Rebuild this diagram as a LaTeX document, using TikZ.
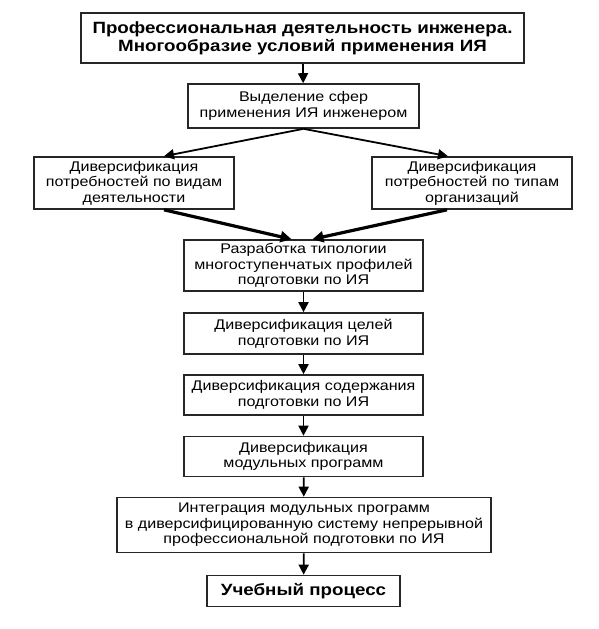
\documentclass[tikz,border=0pt]{standalone}
\usepackage{fontspec}
\setmainfont[FakeStretch=1.15]{Liberation Sans}
\usetikzlibrary{arrows.meta}
\begin{document}
\begin{tikzpicture}[x=1pt,y=-1pt,
  box/.style={draw=black!85,line width=1.6pt,rectangle,align=center,inner sep=0pt,
    font=\fontsize{14}{15.5}\selectfont},
  boldbox/.style={box,font=\fontsize{16.3}{18}\selectfont\bfseries},
  arr/.style={line width=1.8pt,-{Triangle[length=10pt,width=10pt]}},
  thick arr/.style={line width=3.2pt,-{Triangle[length=11pt,width=11pt]}}]
\useasboundingbox (0,0) rectangle (598,629);
\node[boldbox,minimum width=443pt,minimum height=50pt] (top) at (302.5,38)
  {Профессиональная деятельность инженера.\\Многообразие условий применения ИЯ};
\node[box,minimum width=231pt,minimum height=44pt] (sel) at (303.5,106)
  {Выделение сфер\\применения ИЯ инженером};
\node[box,minimum width=200pt,minimum height=52pt] (left) at (134,183)
  {Диверсификация\\потребностей по видам\\деятельности};
\node[box,minimum width=200pt,minimum height=52pt] (right) at (472,183)
  {Диверсификация\\потребностей по типам\\организаций};
\node[box,minimum width=239pt,minimum height=51pt] (razr) at (303.5,265.5)
  {Разработка типологии\\многоступенчатых профилей\\подготовки по ИЯ};
\node[box,minimum width=239pt,minimum height=41pt] (goals) at (303.5,333.5)
  {Диверсификация целей\\подготовки по ИЯ};
\node[box,minimum width=239pt,minimum height=40pt] (cont) at (303.5,395)
  {Диверсификация содержания\\подготовки по ИЯ};
\node[box,minimum width=239pt,minimum height=40pt] (modul) at (303.5,456.5)
  {Диверсификация\\модульных программ};
\node[box,minimum width=374pt,minimum height=55pt] (integ) at (304,525)
  {Интеграция модульных программ\\в диверсифицированную систему непрерывной\\профессиональной подготовки по ИЯ};
\node[boldbox,minimum width=193pt,minimum height=31pt] (ucheb) at (303.5,591)
  {Учебный процесс};
\draw[arr] (top) -- (sel);
\draw[arr] (sel.south) -- ([xshift=30pt]left.north);
\draw[arr] (sel.south) -- ([xshift=-24pt]right.north);
\draw[thick arr] ([xshift=30pt]left.south) -- ([xshift=-12pt]razr.north);
\draw[thick arr] ([xshift=-25pt]right.south) -- ([xshift=9pt]razr.north);
\draw[arr] (razr) -- (goals);
\draw[arr] (goals) -- (cont);
\draw[arr] (cont) -- (modul);
\draw[arr] (modul) -- (integ);
\draw[arr] (integ) -- (ucheb);
\end{tikzpicture}
\end{document}
